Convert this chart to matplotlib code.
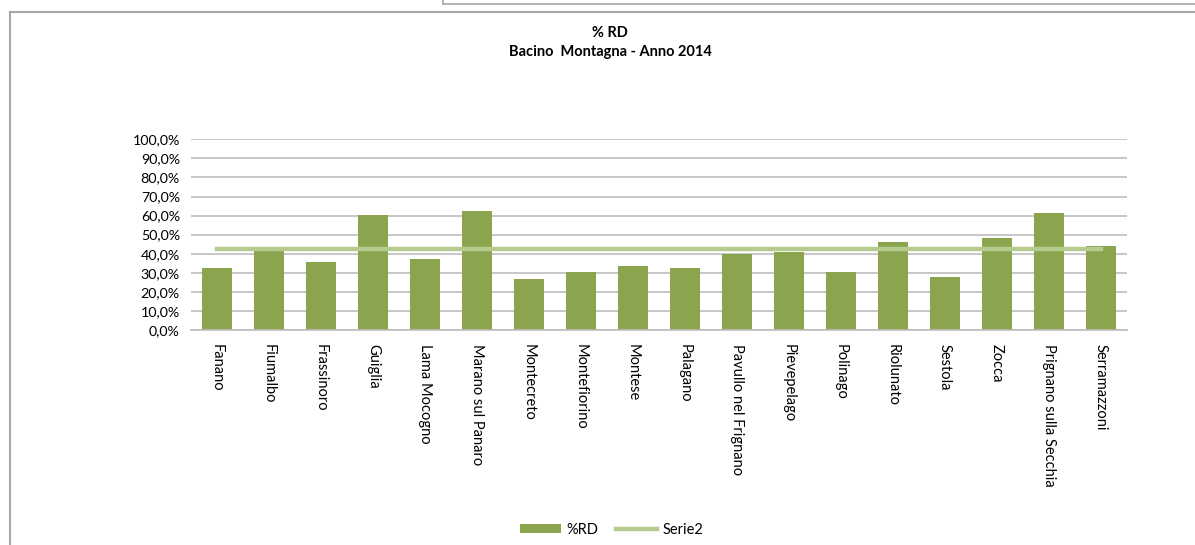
import numpy as np
from matplotlib import pyplot as plt
from matplotlib.lines import Line2D

comuni = ["Fanano", "Fiumalbo", "Frassinoro", "Guiglia", "Lama Mocogno",
          "Marano sul Panaro", "Montecreto", "Montefiorino", "Montese",
          "Palagano", "Pavullo nel Frignano", "Pievepelago", "Polinago",
          "Riolunato", "Sestola", "Zocca", "Prignano sulla Secchia",
          "Serramazzoni"]
rd = [32.7, 43.4, 35.8, 60.5, 37.4, 62.4, 26.6, 30.4, 33.4,
      32.5, 39.7, 41.1, 30.4, 46.3, 27.8, 48.4, 61.5, 44.2]
serie2 = [42.3] * len(comuni)
yticks = [0, 10, 20, 30, 40, 50, 60, 70, 80, 90, 100]

W, H = 1195, 545
plt.rcParams['font.family'] = ['Lato', 'DejaVu Sans']

fig = plt.figure(figsize=(W / 100, H / 100), dpi=100)
ax = fig.add_axes([191 / W, 1 - 330 / H, (1127 - 191) / W, (330 - 139.3) / H])

x = np.arange(len(comuni))
bars = ax.bar(x, rd, width=0.565, color='#8BA54E', label='%RD', zorder=2)
line, = ax.plot(x, serie2, color='#B5CC8E', linewidth=3.2, label='Serie2', zorder=3)

ax.set_xlim(-0.5, len(comuni) - 0.5)
ax.set_ylim(0, 100)
ax.set_yticks(yticks)
ax.set_yticklabels([("%.1f%%" % v).replace('.', ',') for v in yticks], fontsize=10.3)
ax.set_xticks(x)
ax.set_xticklabels(comuni, rotation=-90, fontsize=10.5, va='top', ha='center')
ax.tick_params(axis='both', length=0, pad=8)
ax.tick_params(axis='x', pad=10)
ax.grid(axis='y', color='#BDBDBD', linewidth=1.2, zorder=0)
for s in ['top', 'right', 'left']:
    ax.spines[s].set_visible(False)
ax.spines['bottom'].set_color('#BDBDBD')
ax.spines['bottom'].set_linewidth(1.2)

fig.text(610 / W, 1 - 33 / H, "% RD", ha='center', va='center',
         fontsize=10.5, fontweight='bold')
fig.text(610 / W, 1 - 52 / H, "Bacino  Montagna - Anno 2014", ha='center',
         va='center', fontsize=10.5, fontweight='bold')

fig.legend([bars, line], ['%RD', 'Serie2'], loc='center',
           bbox_to_anchor=(612 / W, 1 - 530 / H), ncol=2,
           frameon=False, fontsize=10.5, handlelength=2.8, handleheight=0.6,
           columnspacing=1.2, handletextpad=0.4)

# borders of the spreadsheet chart area
bc = '#A6A6A6'
fig.add_artist(Line2D([10 / W, 10 / W], [0, 1 - 12 / H], color=bc, lw=1.5))
fig.add_artist(Line2D([10 / W, 1], [1 - 12 / H, 1 - 12 / H], color=bc, lw=1.5))
fig.add_artist(Line2D([443 / W, 443 / W], [1 - 4 / H, 1], color=bc, lw=1.2))
fig.add_artist(Line2D([443 / W, 1], [1 - 4 / H, 1 - 4 / H], color=bc, lw=1.2))

fig.savefig('out.png', dpi=100)
